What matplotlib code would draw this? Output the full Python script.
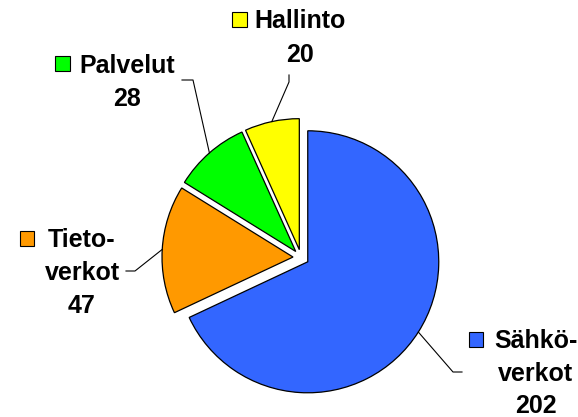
import numpy as np
import matplotlib
matplotlib.use("Agg")
import matplotlib.pyplot as plt
from matplotlib.patches import Rectangle

# data
nimet = ["Sähkö-\nverkot", "Tieto-\nverkot", "Palvelut", "Hallinto"]
arvot = [202, 47, 28, 20]
varit = ["#3366FF", "#FF9900", "#00FF00", "#FFFF00"]

W, H = 578, 417


def P(x, y):
    # kuvan pikselit (y alaspäin) -> akselin koordinaatit
    return x, H - y


# tekstien paikat (keskikohta x, rivien perusviivat y) ja ruudut
tekstit = [
    (535.5, [348, 381, 413], (468.5, 332)),
    (82, [247, 280, 313], (19.5, 231)),
    (127, [73, 106], (55, 56)),
    (300, [28, 62], (232, 12)),
]
# johtoviivojen taitekohdat
taitteet = [
    [(453, 372), (462, 372)],
    [(135, 271), (126, 271)],
    [(193, 80), (182, 80)],
    [(289, 82), (289, 75)],
]

fig = plt.figure(figsize=(W / 100, H / 100), dpi=100)
ax = fig.add_axes([0, 0, 1, 1])

cx, cy = P(301, 257.5)
wedges, _ = ax.pie(arvot, colors=varit, startangle=90, counterclock=False,
                   radius=131, center=(cx, cy), explode=[8, 8, 8, 8],
                   wedgeprops=dict(edgecolor="black", linewidth=0.9))
ax.set_xlim(0, W)
ax.set_ylim(0, H)
ax.set_aspect("equal")
ax.axis("off")

for w, nimi, arvo, vari, (tx, rivit_y, ruutu), taite in zip(
        wedges, nimet, arvot, varit, tekstit, taitteet):
    # johtoviiva siivun kaaren keskeltä
    tm = np.deg2rad((w.theta1 + w.theta2) / 2)
    x0 = w.center[0] + w.r * np.cos(tm)
    y0 = w.center[1] + w.r * np.sin(tm)
    xs = [x0] + [P(*p)[0] for p in taite]
    ys = [y0] + [P(*p)[1] for p in taite]
    ax.plot(xs, ys, color="black", linewidth=0.8)

    rivit = nimi.split("\n") + [str(arvo)]
    for rivi, by in zip(rivit, rivit_y):
        ax.text(*P(tx, by), rivi, ha="center", va="baseline",
                fontsize=18, fontweight="bold", family="Liberation Sans")
    rx, ry = P(*ruutu)
    ax.add_patch(Rectangle((rx, ry - 14.5), 14.5, 14.5, facecolor=vari,
                           edgecolor="black", linewidth=0.8))

fig.savefig("out.png", dpi=100)
